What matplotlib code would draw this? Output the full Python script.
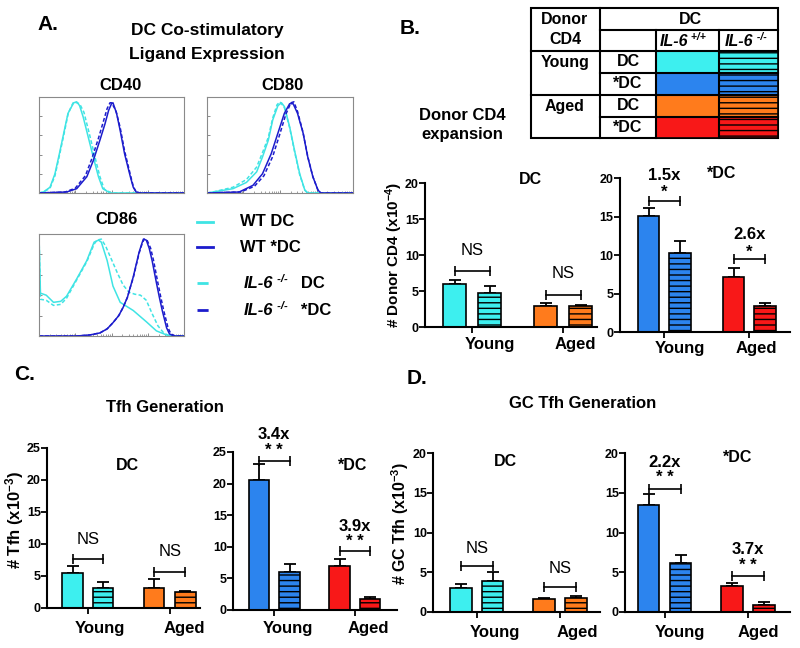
import matplotlib
matplotlib.use('Agg')
import matplotlib.pyplot as plt
from matplotlib.patches import Rectangle

plt.rcParams['font.family'] = ['Liberation Sans', 'DejaVu Sans']
plt.rcParams['mathtext.fontset'] = 'custom'
plt.rcParams['mathtext.rm'] = 'Liberation Sans'
plt.rcParams['mathtext.bf'] = 'Liberation Sans:bold'
plt.rcParams['mathtext.it'] = 'Liberation Sans:italic'
plt.rcParams['hatch.linewidth'] = 1.0

# colours
cyan = '#3DEFEF'
blue = '#2C84EE'
orange = '#FF7B1C'
red = '#F81818'
h_cyan = '#3FE4E4'
h_blue = '#1C1CCC'

# ---- histogram data (x: % of box width on log axis, y: % of max) ----
cd40_wt_dc_x = [0, 3, 7.6, 11, 14.5, 18, 20, 22.5, 24, 26, 28, 30.5, 34, 37.5, 41, 44, 49, 100]
cd40_wt_dc_y = [0, 1, 6, 20, 44, 69, 83, 90, 94, 95, 91, 79, 58, 37, 17, 4.5, 0, 0]
cd40_ko_dc_x = [0, 3, 7.6, 11, 14.5, 18, 20, 22.5, 24, 26, 28, 31, 35, 38.5, 42, 45, 50, 100]
cd40_ko_dc_y = [0, 1, 5, 18, 42, 67, 82, 91, 95, 94, 93, 84, 60, 38, 17, 4, 0, 0]
cd40_wt_sdc_x = [0, 19, 26, 33, 37.5, 42, 45.5, 48, 50, 51, 53.5, 56, 59, 63, 65, 67, 70, 100]
cd40_wt_sdc_y = [0, 1, 4.5, 17, 34, 55, 72, 86, 93, 94, 83, 65, 41, 17, 6, 1, 0, 0]
cd40_ko_sdc_x = [0, 18, 25, 32, 36.5, 41, 44.5, 47, 49, 50, 53, 56, 59, 63, 65, 67, 70, 100]
cd40_ko_sdc_y = [0, 1, 5, 18, 36, 57, 75, 88, 94, 94, 86, 68, 44, 19, 7, 1, 0, 0]

cd80_wt_dc_x = [0, 4, 17.8, 27, 34, 38, 42, 45, 48.6, 51, 53, 56.6, 60, 63.5, 67, 69, 100]
cd80_wt_dc_y = [0, 1, 4.5, 11, 22, 37.5, 55, 76, 91, 94, 90, 69, 44, 20, 3, 0, 0]
cd80_ko_dc_x = [0, 4, 17.8, 27, 34, 38, 42, 45, 48, 50, 53, 56.6, 60, 63.5, 67, 69, 100]
cd80_ko_dc_y = [0, 1, 6, 14, 27, 42, 58, 78, 92, 95, 89, 68, 43, 19, 3, 0, 0]
cd80_wt_sdc_x = [0, 22, 31.5, 38, 44, 48.6, 53, 56.6, 59, 62, 65.8, 69, 72.5, 76, 78, 100]
cd80_wt_sdc_y = [0, 1, 8, 20, 41, 62.5, 83, 93, 93, 83, 62.5, 37.5, 17, 3, 0, 0]
cd80_ko_sdc_x = [0, 23, 32.5, 39, 45, 49.6, 54, 57.5, 59.5, 62, 65.8, 69, 72.5, 76, 78, 100]
cd80_ko_sdc_y = [0, 1, 7, 18, 38, 60, 82, 94, 95, 85, 63, 38, 17, 3, 0, 0]

cd86_wt_dc_x = [0, 0, 1, 5, 10, 15, 19, 26, 33, 38, 41, 43, 47, 51, 56, 65, 74, 81, 88, 93, 100]
cd86_wt_dc_y = [0, 99, 42, 40, 33, 34, 39, 56, 74, 92, 94, 92, 74, 49, 33, 25, 14, 5, 1, 0, 0]
cd86_ko_dc_x = [0, 0, 1, 5, 10, 15, 19, 26, 33, 38, 40, 43, 46, 50, 54, 58, 62, 66, 70, 74, 78, 82, 86, 90, 100]
cd86_ko_dc_y = [0, 99, 36, 35, 30, 31, 37, 55, 73, 90, 94, 95, 88, 75, 62, 50, 43, 41, 40, 35, 22, 10, 3, 0, 0]
cd86_wt_sdc_x = [0, 26, 35, 42, 47, 51, 55, 58, 61, 63, 65, 67, 69, 71, 72, 74, 76, 78, 81, 83, 85, 88, 90, 93, 100]
cd86_wt_sdc_y = [0, 0, 1, 3, 7, 13, 20, 28, 38, 48, 58, 70, 82, 91, 95, 94, 86, 74, 52, 38, 25, 8, 2, 0, 0]
cd86_ko_sdc_x = [0, 26, 35, 42, 47, 51, 55, 58, 61, 63, 65, 67, 69, 71, 72.5, 74.5, 77, 79, 82, 84, 86, 89, 91, 94, 100]
cd86_ko_sdc_y = [0, 0, 1, 3, 7, 13, 20, 28, 38, 48, 57, 69, 81, 90, 95, 94, 86, 74, 52, 38, 25, 8, 2, 0, 0]

# ---- bar data: young +/+, young -/-, aged +/+, aged -/- ----
groups = ['Young', 'Aged']
cd4_dc = [6.0, 4.75, 2.9, 2.9]
cd4_dc_err = [0.5, 0.95, 0.45, 0.2]
cd4_sdc = [15.1, 10.3, 7.2, 3.35]
cd4_sdc_err = [1.0, 1.5, 1.1, 0.45]
tfh_dc = [5.4, 3.2, 3.2, 2.45]
tfh_dc_err = [1.1, 0.8, 1.3, 0.25]
tfh_sdc = [20.5, 6.0, 7.0, 1.8]
tfh_sdc_err = [2.6, 1.2, 1.1, 0.3]
gctfh_dc = [3.0, 3.9, 1.6, 1.7]
gctfh_dc_err = [0.5, 1.1, 0.2, 0.3]
gctfh_sdc = [13.5, 6.2, 3.3, 0.9]
gctfh_sdc_err = [1.4, 1.0, 0.3, 0.4]

W, H = 800, 648
fig = plt.figure(figsize=(8, 6.48), dpi=100)


def px_axes(x0, y0, x1, y1):
    return fig.add_axes([x0 / W, 1 - y1 / H, (x1 - x0) / W, (y1 - y0) / H])


def hist_panel(x0, y0, x1, y1, curves):
    ax = px_axes(x0, y0, x1, y1)
    for xs, ys, c, ls in curves:
        if ls == '-':
            ax.plot(xs, ys, color=c, lw=1.1)
        else:
            ax.plot(xs, ys, color=c, lw=1.1, ls=(0, (2.5, 1.5)))
    ax.set_xlim(0, 100)
    ax.set_ylim(0, 100)
    minor = []
    for d in range(4):
        for k in range(2, 10):
            minor.append(d * 25 + 25 * [0, 0, .301, .477, .602, .699, .778, .845, .903, .954][k])
    ax.set_xticks([0, 25, 50, 75, 100])
    ax.set_xticks(minor, minor=True)
    ax.set_yticks([20, 40, 60, 80])
    ax.tick_params(direction='in', length=2.5, width=0.6, color='#777777',
                   labelbottom=False, labelleft=False)
    ax.tick_params(which='minor', direction='in', length=1.5, width=0.5, color='#777777')
    for s in ax.spines.values():
        s.set_color('#8a8a8a')
        s.set_linewidth(0.8)
    return ax


hist_panel(39, 97, 184, 193, [(cd40_wt_dc_x, cd40_wt_dc_y, h_cyan, '-'),
                              (cd40_ko_dc_x, cd40_ko_dc_y, h_cyan, '--'),
                              (cd40_wt_sdc_x, cd40_wt_sdc_y, h_blue, '-'),
                              (cd40_ko_sdc_x, cd40_ko_sdc_y, h_blue, '--')])
hist_panel(207, 97, 353, 193, [(cd80_wt_dc_x, cd80_wt_dc_y, h_cyan, '-'),
                               (cd80_ko_dc_x, cd80_ko_dc_y, h_cyan, '--'),
                               (cd80_wt_sdc_x, cd80_wt_sdc_y, h_blue, '-'),
                               (cd80_ko_sdc_x, cd80_ko_sdc_y, h_blue, '--')])
hist_panel(39, 234, 184, 336, [(cd86_wt_dc_x, cd86_wt_dc_y, h_cyan, '-'),
                               (cd86_ko_dc_x, cd86_ko_dc_y, h_cyan, '--'),
                               (cd86_wt_sdc_x, cd86_wt_sdc_y, h_blue, '-'),
                               (cd86_ko_sdc_x, cd86_ko_sdc_y, h_blue, '--')])

bar_colors = [cyan, cyan, orange, orange]
bar_colors2 = [blue, blue, red, red]
hatches = ['', '---', '', '---']


def bar_panel(axx, y0, ytop, xend, c0, unit, pos, ymax, vals, errs, colors, notes):
    ax = px_axes(axx, ytop, xend, y0)
    for p, v, c, h in zip(pos, vals, colors, hatches):
        ax.bar(p, v, width=0.68, color=c, edgecolor='black', linewidth=1.2, hatch=h, zorder=2)
    ax.errorbar(pos, vals, yerr=[[0] * 4, errs], fmt='none', ecolor='black',
                elinewidth=1.3, capsize=4, capthick=1.3, zorder=1)
    ax.set_xlim((axx - c0) / unit, (xend - c0) / unit)
    ax.set_ylim(0, ymax)
    ax.set_yticks(range(0, ymax + 1, 5))
    ax.set_xticks([(pos[0] + pos[1]) / 2, (pos[2] + pos[3]) / 2])
    ax.set_xticklabels([])
    ax.tick_params(direction='out', length=4, width=1.3, labelsize=9)
    for lab in ax.get_yticklabels():
        lab.set_fontweight('bold')
    ax.tick_params(axis='y', pad=0.5)
    ax.spines['top'].set_visible(False)
    ax.spines['right'].set_visible(False)
    ax.spines['left'].set_linewidth(1.5)
    ax.spines['bottom'].set_linewidth(1.5)
    ax.patch.set_alpha(0)
    # significance brackets
    for i, yb, lines in notes:
        xa, xb = pos[i], pos[i + 1]
        ax.plot([xa, xb], [yb, yb], color='black', lw=1.2, marker='|', ms=7, mew=1.2)
        for txt, yt, bold in lines:
            ax.text((xa + xb) / 2, yt, txt, ha='center', va='center', fontsize=12,
                    fontweight='bold' if bold else 'normal')
    return ax


bar_panel(425, 327, 183, 597, 454.5, 35, [0, 1, 2.6, 3.6], 20, cd4_dc, cd4_dc_err, bar_colors,
          [(0, 7.8, [('NS', 10.6, False)]), (2, 4.4, [('NS', 7.4, False)])])
bar_panel(620, 332, 178, 790, 648.5, 31.5, [0, 1, 2.7, 3.7], 20, cd4_sdc, cd4_sdc_err, bar_colors2,
          [(0, 17.0, [('*', 18.1, True), ('1.5x', 20.3, True)]),
           (2, 9.5, [('*', 10.4, True), ('2.6x', 12.6, True)])])
bar_panel(47, 608, 448, 200, 72.5, 30.5, [0, 1, 2.67, 3.7], 25, tfh_dc, tfh_dc_err, bar_colors,
          [(0, 7.65, [('NS', 10.7, False)]), (2, 5.7, [('NS', 8.75, False)])])
bar_panel(233, 610, 452, 397, 259, 30.5, [0, 1, 2.64, 3.64], 25, tfh_sdc, tfh_sdc_err, bar_colors2,
          [(0, 23.6, [('* *', 25.2, True), ('3.4x', 27.8, True)]),
           (2, 9.3, [('* *', 10.9, True), ('3.9x', 13.2, True)])])
bar_panel(433, 612, 453, 600, 461, 31.5, [0, 1, 2.63, 3.65], 20, gctfh_dc, gctfh_dc_err, bar_colors,
          [(0, 5.8, [('NS', 8.0, False)]), (2, 3.2, [('NS', 5.5, False)])])
bar_panel(625, 612, 453, 790, 648.5, 32, [0, 1, 2.6, 3.6], 20, gctfh_sdc, gctfh_sdc_err, bar_colors2,
          [(0, 15.5, [('* *', 16.9, True), ('2.2x', 18.8, True)]),
           (2, 4.5, [('* *', 5.9, True), ('3.7x', 7.9, True)])])

# ---- overlay for free text and table, in pixel coordinates ----
ov = fig.add_axes([0, 0, 1, 1])
ov.set_xlim(0, W)
ov.set_ylim(H, 0)
ov.axis('off')
ov.patch.set_alpha(0)
renderer = fig.canvas.get_renderer()


def t(x, y, s, size=12, bold=True, ha='center', va='center', **kw):
    return ov.text(x, y, s, fontsize=size, fontweight='bold' if bold else 'normal',
                   ha=ha, va=va, **kw)


def rich(x, y, parts):
    # parts: (text, size, style, raise_px)
    for s, size, style, dy in parts:
        tx = ov.text(x, y - dy, s, fontsize=size, fontweight='bold', fontstyle=style,
                     ha='left', va='baseline')
        x += tx.get_window_extent(renderer=renderer).width


# panel letters and titles
t(48, 25, 'A.', size=15)
t(410, 28, 'B.', size=15)
t(25, 374, 'C.', size=15)
t(417, 378, 'D.', size=15)
t(207, 30, 'DC Co-stimulatory', size=12.5)
t(207, 54, 'Ligand Expression', size=12.5)
t(121, 85, 'CD40')
t(283, 85, 'CD80')
t(117, 220, 'CD86')
t(462, 115, 'Donor CD4', size=12)
t(462, 135, 'expansion', size=12)
t(165, 407, 'Tfh Generation', size=12)
t(583, 404, 'GC Tfh Generation', size=12)

# sub-panel titles
t(530, 180, 'DC', size=11.5)
t(722, 174, '*DC', size=11.5)
t(127, 465, 'DC', size=11.5)
t(353, 466, '*DC', size=11.5)
t(505, 461, 'DC', size=11.5)
t(738, 457, '*DC', size=11.5)

# group labels
for (xy, xa), yy in [((490, 575), 345), ((680, 756), 349), ((100, 184), 628),
                     ((288, 368), 629), ((495, 577), 632), ((680, 758), 632)]:
    t(xy, yy, groups[0], size=12)
    t(xa, yy, groups[1], size=12)

# y labels
t(394, 255, r'# Donor CD4 (x10$^{\mathbf{-4}}$)', size=11, rotation=90)
t(15, 520, r'# Tfh (x10$^{\mathbf{-3}}$)', size=12, rotation=90)
t(400, 523, r'# GC Tfh (x10$^{\mathbf{-3}}$)', size=11.5, rotation=90)

# legend of panel A
leg_rows = [222, 247, 283, 310]
ov.plot([197, 213], [leg_rows[0]] * 2, color=h_cyan, lw=2)
ov.plot([197, 213], [leg_rows[1]] * 2, color=h_blue, lw=2)
ov.plot([197, 213], [leg_rows[2]] * 2, color=h_cyan, lw=2, ls=(0, (4, 3)))
ov.plot([197, 213], [leg_rows[3]] * 2, color=h_blue, lw=2, ls=(0, (4, 3)))
t(240, leg_rows[0], 'WT DC', ha='left')
t(240, leg_rows[1], 'WT *DC', ha='left')
rich(244, leg_rows[2] + 5, [('IL-6', 12, 'italic', 0), (' -/-', 8, 'italic', 6), ('   DC', 12, 'normal', 0)])
rich(244, leg_rows[3] + 5, [('IL-6', 12, 'italic', 0), (' -/-', 8, 'italic', 6), ('   *DC', 12, 'normal', 0)])

# table of panel B
cx = [531, 600, 656, 719, 778]
ry = [8, 30, 51, 73, 95, 117, 138]
lw = 1.5
ov.add_patch(Rectangle((cx[0], ry[0]), cx[4] - cx[0], ry[6] - ry[0], fill=False, lw=lw))
swatch = [cyan, blue, orange, red]
for k in range(4):
    ov.add_patch(Rectangle((cx[2], ry[k + 2]), cx[3] - cx[2], ry[k + 3] - ry[k + 2],
                           facecolor=swatch[k], edgecolor='black', lw=1.2))
    ov.add_patch(Rectangle((cx[3], ry[k + 2]), cx[4] - cx[3], ry[k + 3] - ry[k + 2],
                           facecolor=swatch[k], edgecolor='black', lw=1.2, hatch='---'))
ov.plot([cx[1], cx[1]], [ry[0], ry[6]], color='black', lw=lw)
for xv in cx[2:4]:
    ov.plot([xv, xv], [ry[1], ry[6]], color='black', lw=lw)
ov.plot([cx[0], cx[4]], [ry[2], ry[2]], color='black', lw=lw)
ov.plot([cx[0], cx[4]], [ry[4], ry[4]], color='black', lw=lw)
for yv in (ry[1], ry[3], ry[5]):
    ov.plot([cx[1], cx[4]], [yv, yv], color='black', lw=lw)
t(565, 19, 'Donor', size=11.5)
t(565, 40, 'CD4', size=11.5)
t(690, 19, 'DC', size=11.5)
rich(660, 46, [('IL-6', 11.5, 'italic', 0), (' +/+', 7.5, 'italic', 6)])
rich(725, 46, [('IL-6', 11.5, 'italic', 0), (' -/-', 7.5, 'italic', 6)])
t(565, 62, 'Young', size=11.5)
t(565, 106, 'Aged', size=11.5)
for k, lab in enumerate(['DC', '*DC', 'DC', '*DC']):
    t(628, (ry[k + 2] + ry[k + 3]) / 2, lab, size=11.5)

fig.savefig('out.png', dpi=100)
